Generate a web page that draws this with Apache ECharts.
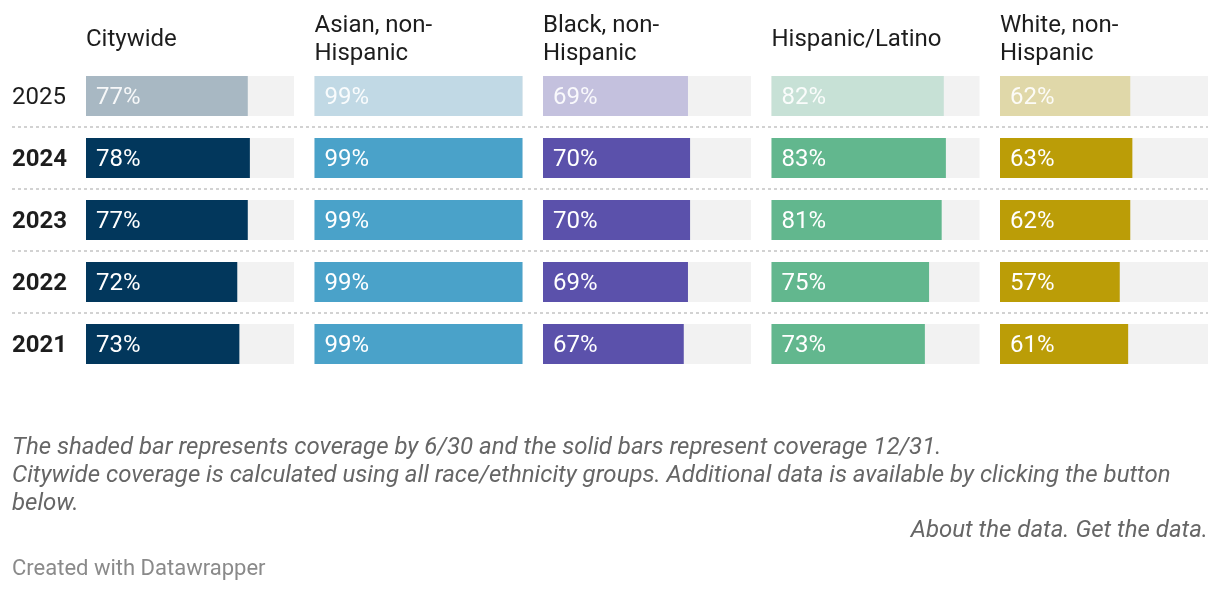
<!DOCTYPE html>
<html>
<head>
<meta charset="utf-8">
<script src="https://cdn.jsdelivr.net/npm/echarts@6/dist/echarts.min.js"></script>
<style>
html,body{margin:0;padding:0;background:#fff;}
#chart{width:1220px;height:590px;}
</style>
</head>
<body>
<div id="chart"></div>
<script>
const years = ['2025', '2024', '2023', '2022', '2021'];
const groups = ['Citywide', 'Asian, non-Hispanic', 'Black, non-Hispanic', 'Hispanic/Latino', 'White, non-Hispanic'];
const groupHeaders = ['Citywide', 'Asian, non-\nHispanic', 'Black, non-\nHispanic', 'Hispanic/Latino', 'White, non-\nHispanic'];
const citywide = [77, 78, 77, 72, 73];
const asian = [99, 99, 99, 99, 99];
const black = [69, 70, 70, 69, 67];
const hispanic = [82, 83, 81, 75, 73];
const white = [62, 63, 62, 57, 61];
const seriesValues = [citywide, asian, black, hispanic, white];
const solidColors = ['#02375c', '#4aa2c9', '#5b51ab', '#62b78e', '#bb9d07'];
const shadedColors = ['#a8b8c3', '#c1d9e5', '#c4c1de', '#c7e1d6', '#e0d8a9'];
const footnoteLines = [
  'The shaded bar represents coverage by 6/30 and the solid bars represent coverage 12/31.',
  'Citywide coverage is calculated using all race/ethnicity groups. Additional data is available by clicking the button',
  'below.'
];
const linksText = 'About the data. Get the data.';
const creditText = 'Created with Datawrapper';

const FONT = 'Roboto';
const chart = echarts.init(document.getElementById('chart'), null, {renderer: 'canvas'});

const grids = [], xAxes = [], yAxes = [], series = [], titles = [];
const colStart = 86, colStep = 228.5, colWidth = 208;
for (let j = 0; j < groups.length; j++) {
  grids.push({left: colStart + colStep * j, width: colWidth, top: 65, height: 310});
  xAxes.push({type: 'value', gridIndex: j, min: 0, max: 99, show: false});
  yAxes.push({
    type: 'category', gridIndex: j, data: years, inverse: true,
    axisLine: {show: false}, axisTick: {show: false}, splitLine: {show: false},
    axisLabel: {
      show: j === 0, align: 'left', margin: 74,
      formatter: (v, i) => i === 0 ? '{n|' + v + '}' : '{b|' + v + '}',
      rich: {
        n: {fontFamily: FONT, fontSize: 24, color: '#1d1d1d', fontWeight: 'normal', padding: [4, 0, 0, 0]},
        b: {fontFamily: FONT, fontSize: 24, color: '#1d1d1d', fontWeight: 'bold', padding: [4, 0, 0, 0]}
      }
    }
  });
  series.push({
    type: 'bar', name: groups[j], xAxisIndex: j, yAxisIndex: j,
    barWidth: 40,
    showBackground: true,
    backgroundStyle: {color: '#f2f2f2'},
    data: seriesValues[j].map((v, i) => ({
      value: v,
      itemStyle: {color: i === 0 ? shadedColors[j] : solidColors[j]},
      label: {color: i === 0 ? 'rgba(255,255,255,0.9)' : '#ffffff'}
    })),
    label: {
      show: true, position: 'insideLeft', distance: 10, offset: [0, 2],
      formatter: '{c}%', fontFamily: FONT, fontSize: 24, color: '#fff'
    },
    silent: true
  });
  const lines = groupHeaders[j].split('\n').length;
  titles.push({
    text: groupHeaders[j], left: colStart + colStep * j, top: lines === 1 ? 26 : 12,
    padding: 0,
    textStyle: {fontFamily: FONT, fontSize: 24, fontWeight: 'normal', color: '#1d1d1d', lineHeight: 28}
  });
}
// separator grid
grids.push({left: 12, right: 12, top: 127, height: 186});
xAxes.push({type: 'value', gridIndex: 5, show: false, min: 0, max: 1});
yAxes.push({
  type: 'value', gridIndex: 5, min: 1, max: 4, interval: 1,
  axisLine: {show: false}, axisTick: {show: false}, axisLabel: {show: false},
  splitLine: {show: true, lineStyle: {color: '#d2d2d2', width: 2, type: [3, 3]}}
});

const graphics = footnoteLines.map((t, i) => ({
  type: 'text', left: 12, top: 436 + i * 28,
  style: {text: t, font: 'italic 24px Roboto', fill: '#666'}
}));
graphics.push({type: 'text', right: 12, top: 519, style: {text: linksText, font: 'italic 24px Roboto', fill: '#666'}});
graphics.push({type: 'text', left: 12, top: 558, style: {text: creditText, font: '22px Roboto', fill: '#8a8a8a'}});

chart.setOption({
  animation: false,
  title: titles,
  grid: grids,
  xAxis: xAxes,
  yAxis: yAxes,
  series: series,
  graphic: graphics
});
</script>
</body>
</html>
